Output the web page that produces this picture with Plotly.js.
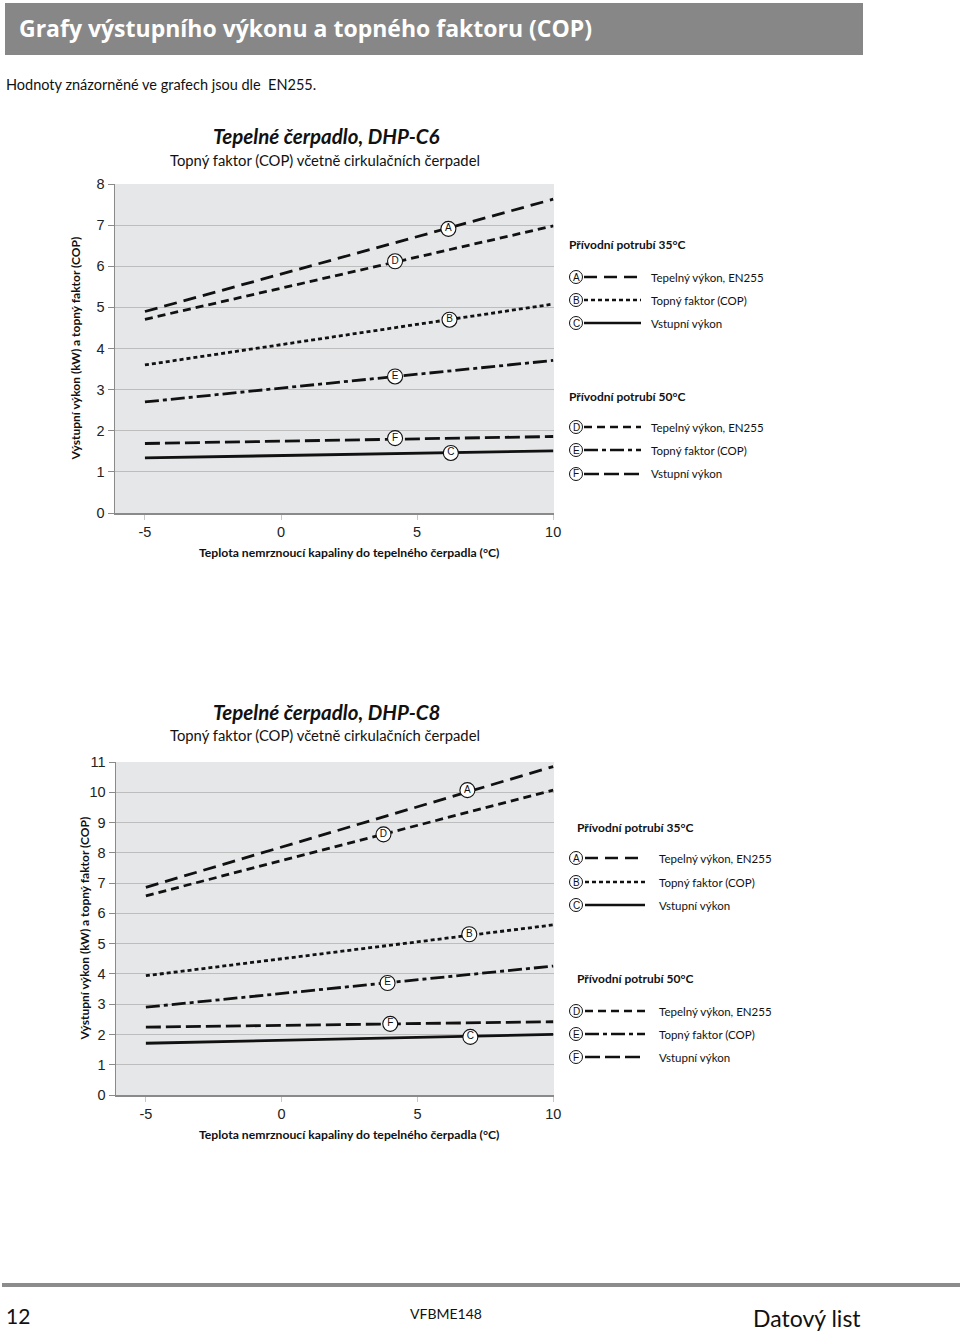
<!DOCTYPE html>
<html>
<head>
<meta charset="utf-8">
<script src="https://cdn.plot.ly/plotly-3.0.1.min.js"></script>
<style>
html,body{margin:0;padding:0;background:#fff;}
#chart{width:960px;height:1332px;}
</style>
</head>
<body>
<div id="chart"></div>
<script>
// ---------- data ----------
const xTemp = [-5, 10];
const xTicks = [-5, 0, 5, 10];
const xTickText = ['-5', '0', '5', '10'];

// DHP-C6
const c6_A = [4.90, 7.63];
const c6_D = [4.71, 6.98];
const c6_B = [3.60, 5.08];
const c6_E = [2.70, 3.71];
const c6_F = [1.69, 1.86];
const c6_C = [1.34, 1.51];
const c6_labelText = ['A', 'D', 'B', 'E', 'F', 'C'];
const c6_labelX = [6.15, 4.19, 6.19, 4.19, 4.19, 6.24];
const c6_labelY = [6.91, 6.12, 4.70, 3.32, 1.82, 1.46];

// DHP-C8
const c8_A = [6.86, 10.85];
const c8_D = [6.58, 10.07];
const c8_B = [3.94, 5.62];
const c8_E = [2.90, 4.26];
const c8_F = [2.24, 2.42];
const c8_C = [1.71, 2.00];
const c8_labelText = ['A', 'D', 'B', 'E', 'F', 'C'];
const c8_labelX = [6.84, 3.75, 6.91, 3.90, 4.00, 6.95];
const c8_labelY = [10.07, 8.61, 5.31, 3.70, 2.35, 1.92];

// legend
const legendGroup1 = 'Přívodní potrubí 35°C';
const legendGroup2 = 'Přívodní potrubí 50°C';
const legendLetters1 = ['A', 'B', 'C'];
const legendLetters2 = ['D', 'E', 'F'];
const legendLabels = ['Tepelný výkon, EN255', 'Topný faktor (COP)', 'Vstupní výkon'];

const chartTitles = ['Tepelné čerpadlo, DHP-C6', 'Tepelné čerpadlo, DHP-C8'];
const chartSubtitle = 'Topný faktor (COP) včetně cirkulačních čerpadel';
const yTitle = 'Výstupní výkon (kW) a topný faktor (COP)';
const xTitle = 'Teplota nemrznoucí kapaliny do tepelného čerpadla (°C)';

// ---------- styles ----------
const W = 960, H = 1332;
const px = v => v / W;
const py = v => 1 - v / H;
const dashes = {
  A: '13px,7px',
  B: '4px,3px',
  C: 'solid',
  D: '8px,5px',
  E: '14px,4px,4px,4px',
  F: '15px,5px'
};
const LW = 2.8;
const MYR = 'Lato, "Open Sans", sans-serif';
const ARI = '"Liberation Sans", Arial, sans-serif';

function lineTrace(y, letter, xa, ya) {
  return {x: xTemp, y: y, type: 'scatter', mode: 'lines', xaxis: xa, yaxis: ya,
    line: {color: '#111', width: LW, dash: dashes[letter]}, showlegend: false, hoverinfo: 'skip'};
}
function labelTrace(xs, ys, txt, xa, ya) {
  return {x: xs, y: ys, text: txt, type: 'scatter', mode: 'markers+text', xaxis: xa, yaxis: ya,
    marker: {size: 15, color: '#fff', line: {color: '#111', width: 1.1}},
    textposition: 'middle center', textfont: {family: ARI, size: 10, color: '#111'},
    showlegend: false, hoverinfo: 'skip', cliponaxis: false};
}

const traces = [
  lineTrace(c6_A, 'A', 'x', 'y'), lineTrace(c6_D, 'D', 'x', 'y'), lineTrace(c6_B, 'B', 'x', 'y'),
  lineTrace(c6_E, 'E', 'x', 'y'), lineTrace(c6_F, 'F', 'x', 'y'), lineTrace(c6_C, 'C', 'x', 'y'),
  labelTrace(c6_labelX, c6_labelY, c6_labelText, 'x', 'y'),
  lineTrace(c8_A, 'A', 'x2', 'y2'), lineTrace(c8_D, 'D', 'x2', 'y2'), lineTrace(c8_B, 'B', 'x2', 'y2'),
  lineTrace(c8_E, 'E', 'x2', 'y2'), lineTrace(c8_F, 'F', 'x2', 'y2'), lineTrace(c8_C, 'C', 'x2', 'y2'),
  labelTrace(c8_labelX, c8_labelY, c8_labelText, 'x2', 'y2')
];

function xAxis(dom, anchor) {
  return {domain: dom, anchor: anchor, range: [-6.1, 10.03], tickvals: xTicks, ticktext: xTickText, showgrid: false,
    zeroline: false, showline: true, linecolor: '#8a8a8a', linewidth: 1.5, ticks: 'outside', ticklen: 5,
    tickcolor: '#c8c8c8', tickfont: {family: ARI, size: 14.5, color: '#222'}, fixedrange: true};
}
function yAxis(dom, anchor, max) {
  return {domain: dom, anchor: anchor, range: [0, max], dtick: 1, showgrid: true, gridcolor: '#bdbdbd',
    gridwidth: 1, zeroline: false, showline: true, linecolor: '#8a8a8a', linewidth: 1.5, ticks: 'outside',
    ticklen: 6, tickcolor: '#8a8a8a', tickfont: {family: ARI, size: 14.5, color: '#222'}, fixedrange: true};
}

const shapes = [];
const annotations = [];

// header
shapes.push({type: 'rect', xref: 'paper', yref: 'paper', x0: px(5), x1: px(863), y0: py(3), y1: py(55),
  fillcolor: '#878787', line: {width: 0}, layer: 'below'});
annotations.push({xref: 'paper', yref: 'paper', x: px(17), y: py(28), xanchor: 'left', yanchor: 'middle',
  showarrow: false, text: '<b>Grafy výstupního výkonu a topného faktoru (COP)</b>',
  font: {family: '"Open Sans", Lato, sans-serif', size: 23, color: '#fff'}});
annotations.push({xref: 'paper', yref: 'paper', x: px(4), y: py(84), xanchor: 'left', yanchor: 'middle',
  showarrow: false, text: 'Hodnoty znázorněné ve grafech jsou dle  EN255.',
  font: {family: MYR, size: 14.5, color: '#111'}});

// footer
shapes.push({type: 'rect', xref: 'paper', yref: 'paper', x0: px(2), x1: px(960), y0: py(1283), y1: py(1287),
  fillcolor: '#8c8c8c', line: {width: 0}});
annotations.push({xref: 'paper', yref: 'paper', x: px(4), y: py(1315), xanchor: 'left', yanchor: 'middle',
  showarrow: false, text: '12', font: {family: MYR, size: 21, color: '#111'}});
annotations.push({xref: 'paper', yref: 'paper', x: px(446), y: py(1313), xanchor: 'center', yanchor: 'middle',
  showarrow: false, text: 'VFBME148', font: {family: MYR, size: 14, color: '#111'}});
annotations.push({xref: 'paper', yref: 'paper', x: px(863), y: py(1318), xanchor: 'right', yanchor: 'middle',
  showarrow: false, text: 'Datový list', font: {family: MYR, size: 23, color: '#111'}});

// per chart decorations
const charts = [
  {top: 184, bottom: 513, titleY: 136, subY: 160, yTitleX: 75, xTitleY: 552,
   leg: {x: 567, circX: 576, lineX0: 584, lineX1: 641, textX: 649, t1: 245, items1: [277, 300, 323], t2: 396, items2: [427, 450, 474]}},
  {top: 762, bottom: 1095, titleY: 712, subY: 735, yTitleX: 84, xTitleY: 1134,
   leg: {x: 575, circX: 576, lineX0: 585, lineX1: 645, textX: 657, t1: 827, items1: [858, 882, 905], t2: 978, items2: [1011, 1034, 1057]}}
];

charts.forEach((c, i) => {
  annotations.push({xref: 'paper', yref: 'paper', x: px(326), y: py(c.titleY), xanchor: 'center', yanchor: 'middle',
    showarrow: false, text: '<b><i>' + chartTitles[i] + '</i></b>', font: {family: MYR, size: 20.5, color: '#111'}});
  annotations.push({xref: 'paper', yref: 'paper', x: px(325), y: py(c.subY), xanchor: 'center', yanchor: 'middle',
    showarrow: false, text: chartSubtitle, font: {family: MYR, size: 14.8, color: '#111'}});
  annotations.push({xref: 'paper', yref: 'paper', x: px(c.yTitleX), y: py((c.top + c.bottom) / 2), xanchor: 'center', yanchor: 'middle',
    textangle: -90, showarrow: false, text: '<b>' + yTitle + '</b>', font: {family: MYR, size: 12, color: '#111'}});
  annotations.push({xref: 'paper', yref: 'paper', x: px(349), y: py(c.xTitleY), xanchor: 'center', yanchor: 'middle',
    showarrow: false, text: '<b>' + xTitle + '</b>', font: {family: MYR, size: 12.2, color: '#111'}});

  const L = c.leg;
  const groups = [[legendGroup1, L.t1, legendLetters1, L.items1], [legendGroup2, L.t2, legendLetters2, L.items2]];
  groups.forEach(g => {
    annotations.push({xref: 'paper', yref: 'paper', x: px(L.x), y: py(g[1]), xanchor: 'left', yanchor: 'middle',
      showarrow: false, text: '<b>' + g[0] + '</b>', font: {family: MYR, size: 12, color: '#111'}});
    g[2].forEach((letter, k) => {
      const yy = g[3][k];
      shapes.push({type: 'line', xref: 'paper', yref: 'paper', x0: px(L.lineX0), x1: px(L.lineX1), y0: py(yy), y1: py(yy),
        line: {color: '#111', width: 2.5, dash: dashes[letter]}});
      shapes.push({type: 'circle', xref: 'paper', yref: 'paper', x0: px(L.circX - 6.5), x1: px(L.circX + 6.5),
        y0: py(yy + 6.5), y1: py(yy - 6.5), fillcolor: '#fff', line: {color: '#111', width: 1}});
      annotations.push({xref: 'paper', yref: 'paper', x: px(L.circX), y: py(yy), xanchor: 'center', yanchor: 'middle',
        showarrow: false, text: letter, font: {family: ARI, size: 10, color: '#111'}});
      annotations.push({xref: 'paper', yref: 'paper', x: px(L.textX), y: py(yy), xanchor: 'left', yanchor: 'middle',
        showarrow: false, text: legendLabels[k], font: {family: MYR, size: 11.5, color: '#111'}});
    });
  });
});

const layout = {
  width: W, height: H,
  margin: {l: 0, r: 0, t: 0, b: 0},
  paper_bgcolor: '#fff',
  plot_bgcolor: '#e6e7e8',
  showlegend: false,
  xaxis: xAxis([px(115), px(554)], 'y'),
  yaxis: yAxis([py(513), py(184)], 'x', 8),
  xaxis2: xAxis([px(116), px(554)], 'y2'),
  yaxis2: yAxis([py(1095), py(762)], 'x2', 11),
  shapes: shapes,
  annotations: annotations
};

Plotly.newPlot('chart', traces, layout, {displayModeBar: false, staticPlot: true});
</script>
</body>
</html>
